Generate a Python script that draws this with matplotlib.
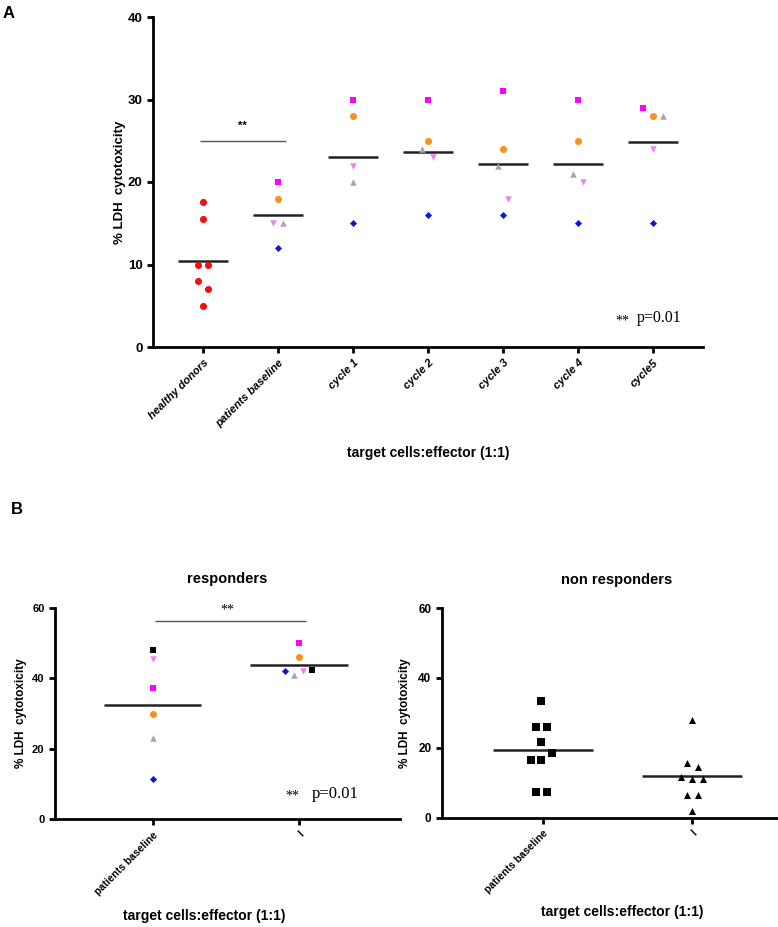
import numpy as np
import matplotlib
matplotlib.use("Agg")
import matplotlib.pyplot as plt

plt.rcParams['font.family'] = ['Liberation Sans', 'DejaVu Sans']

# panel A data
groups_a = ['healthy donors', 'patients baseline', 'cycle 1', 'cycle 2', 'cycle 3', 'cycle 4', 'cycle5']
healthy = [17.6, 15.5, 10, 10, 8, 7, 5]
pat_magenta = [20, 30, 30, 31, 30, 29]
pat_orange = [18, 28, 25, 24, 25, 28]
pat_pink = [15, 22, 23, 18, 20, 24]
pat_gray = [15, 20, 24, 22, 21, 28]
pat_blue = [12, 15, 16, 16, 15, 15]

# panel B data
groups_b = ['patients baseline', 'I']
resp_black = [48, 42.4]
resp_pink = [45.4, 42]
resp_magenta = [37.2, 50]
resp_orange = [30, 46]
resp_gray = [23, 40.9]
resp_blue = [11.4, 42]
nonresp_baseline = [33.5, 26, 26, 21.7, 18.4, 16.5, 16.5, 7.4, 7.4]
nonresp_cycle1 = [28, 15.7, 14.4, 11.6, 11.2, 11.2, 6.4, 6.4, 1.9]

# horizontal jitter (pixels) as in the original scatter
healthy_dx = [0, 0, -5, 5, -5, 5, 0]
pink_dx = [-5, 0, 5, 5, 5, 0]
gray_dx = [5, 0, -6, -5, -5, 10]
magenta_dx = [0, 0, 0, 0, 0, -10]
resp_dx = {'black': [0, 13], 'pink': [0, 4], 'magenta': [0, 0], 'orange': [0, 0],
           'gray': [0, -5], 'blue': [0, -14]}
nonresp_base_dx = [-2, -7, 4, -2, 9, -12, -2, -7, 4]
nonresp_c1_dx = [0, -5, 6, -11, 0, 11, -5, 6, 0]

RED = '#f01010'
MAGENTA = '#ff00ff'
ORANGE = '#f7931e'
PINK = '#ee82ee'
GRAY = '#a6a6a6'
BLUE = '#0a14e6'
BLACK = '#000000'


def style_axes(ax, tick_fs):
    for s in ['top', 'right']:
        ax.spines[s].set_visible(False)
    for s in ['left', 'bottom']:
        ax.spines[s].set_linewidth(2)
    ax.tick_params(direction='out', length=4, width=2)
    for lab in ax.get_yticklabels():
        lab.set_fontweight('bold')
        lab.set_fontsize(tick_fs)


def mean_line(ax, x, vals, hw=0.333):
    ax.hlines(np.mean(vals), x - hw, x + hw, color='#222222', lw=1.8)


fig = plt.figure(figsize=(7.78, 9.27), dpi=100)

# ---------------- panel A ----------------
ax = fig.add_axes([153 / 778, 1 - 347 / 927, 550 / 778, 330 / 927])
pxa = 1 / 75.0
xa = np.arange(len(groups_a))

ax.scatter(0 + np.array(healthy_dx) * pxa, healthy, s=26, marker='o', color=RED, lw=0, zorder=3)
mean_line(ax, 0, healthy)
pxs = xa[1:]
ax.scatter(pxs + np.array(magenta_dx) * pxa, pat_magenta, s=24, marker='s', color=MAGENTA, lw=0, zorder=3)
ax.scatter(pxs, pat_orange, s=26, marker='o', color=ORANGE, lw=0, zorder=3)
ax.scatter(pxs + np.array(pink_dx) * pxa, pat_pink, s=22, marker='v', color=PINK, lw=0, zorder=3)
ax.scatter(pxs + np.array(gray_dx) * pxa, pat_gray, s=22, marker='^', color=GRAY, lw=0, zorder=3)
ax.scatter(pxs, pat_blue, s=13, marker='D', color=BLUE, lw=0, zorder=3)
for i, x in enumerate(pxs):
    vals = [pat_magenta[i], pat_orange[i], pat_pink[i], pat_gray[i], pat_blue[i]]
    mean_line(ax, x, vals)

ax.hlines(25, -0.04, 1.11, color='#555555', lw=1)
ax.text(0.53, 26.8, '**', ha='center', va='center', fontsize=8, fontweight='bold')
ax.text(5.59, 3.2, '**', ha='center', va='center', fontsize=10, family='Liberation Serif')
ax.text(5.79, 3.5, 'p=0.01', ha='left', va='center', fontsize=11.5, family='Liberation Serif')

ax.set_xlim(-0.667, 6.667)
ax.set_ylim(0, 40)
ax.set_yticks([0, 10, 20, 30, 40])
ax.set_xticks(xa)
ax.set_xticklabels(groups_a, rotation=45, ha='right', rotation_mode='anchor',
                   fontsize=8, fontweight='bold', style='italic')
ax.set_ylabel('% LDH  cytotoxicity', fontsize=9.5, fontweight='bold')
ax.yaxis.set_label_coords(-0.05, 0.5)
ax.set_xlabel('target cells:effector (1:1)', fontsize=10, fontweight='bold')
ax.xaxis.set_label_coords(0.5, -0.30)
style_axes(ax, 9.5)

# ---------------- panel B, responders ----------------
ax1 = fig.add_axes([55 / 778, 1 - 819.3 / 927, 345 / 778, 211.6 / 927])
pxb = 1 / 146.7
xb = np.arange(len(groups_b))
ax1.scatter(xb + np.array(resp_dx['black']) * pxb, resp_black, s=24, marker='s', color=BLACK, lw=0, zorder=3)
ax1.scatter(xb + np.array(resp_dx['pink']) * pxb, resp_pink, s=22, marker='v', color=PINK, lw=0, zorder=3)
ax1.scatter(xb + np.array(resp_dx['magenta']) * pxb, resp_magenta, s=24, marker='s', color=MAGENTA, lw=0, zorder=3)
ax1.scatter(xb + np.array(resp_dx['orange']) * pxb, resp_orange, s=26, marker='o', color=ORANGE, lw=0, zorder=3)
ax1.scatter(xb + np.array(resp_dx['gray']) * pxb, resp_gray, s=22, marker='^', color=GRAY, lw=0, zorder=3)
ax1.scatter(xb + np.array(resp_dx['blue']) * pxb, resp_blue, s=13, marker='D', color=BLUE, lw=0, zorder=3)
for i, x in enumerate(xb):
    vals = [resp_black[i], resp_pink[i], resp_magenta[i], resp_orange[i], resp_gray[i], resp_blue[i]]
    mean_line(ax1, x, vals)

ax1.hlines(56.2, 0.02, 1.05, color='#555555', lw=1)
ax1.text(0.51, 59.3, '**', ha='center', va='center', fontsize=10, family='Liberation Serif')
ax1.text(0.956, 6.6, '**', ha='center', va='center', fontsize=10, family='Liberation Serif')
ax1.text(1.086, 7.2, 'p=0.01', ha='left', va='center', fontsize=12, family='Liberation Serif')

ax1.set_xlim(-0.666, 1.69)
ax1.set_ylim(0, 60)
ax1.set_yticks([0, 20, 40, 60])
ax1.set_xticks(xb)
ax1.set_xticklabels(groups_b, rotation=45, ha='right', rotation_mode='anchor',
                    fontsize=7.5, fontweight='bold')
ax1.set_title('responders', fontsize=10.5, fontweight='bold', y=1.075)
ax1.set_ylabel('% LDH  cytotoxicity', fontsize=8.5, fontweight='bold')
ax1.yaxis.set_label_coords(-0.082, 0.5)
ax1.set_xlabel('target cells:effector (1:1)', fontsize=10, fontweight='bold')
ax1.xaxis.set_label_coords(0.432, -0.425)
style_axes(ax1, 8)

# ---------------- panel B, non responders ----------------
ax2 = fig.add_axes([441.7 / 778, 1 - 817.7 / 927, 350 / 778, 209.7 / 927])
pxc = 1 / 149.0
ax2.scatter(0 + np.array(nonresp_base_dx) * pxc, nonresp_baseline, s=30, marker='s', color=BLACK, lw=0, zorder=3)
ax2.scatter(1 + np.array(nonresp_c1_dx) * pxc, nonresp_cycle1, s=26, marker='^', color=BLACK, lw=0, zorder=3)
mean_line(ax2, 0, nonresp_baseline, hw=0.335)
mean_line(ax2, 1, nonresp_cycle1, hw=0.335)

ax2.set_xlim(-0.68, 1.67)
ax2.set_ylim(0, 60)
ax2.set_yticks([0, 20, 40, 60])
ax2.set_xticks(xb)
ax2.set_xticklabels(groups_b, rotation=45, ha='right', rotation_mode='anchor',
                    fontsize=7.5, fontweight='bold')
ax2.set_title('non responders', fontsize=10.5, fontweight='bold', y=1.075)
ax2.set_ylabel('% LDH  cytotoxicity', fontsize=8.5, fontweight='bold')
ax2.yaxis.set_label_coords(-0.088, 0.5)
ax2.set_xlabel('target cells:effector (1:1)', fontsize=10, fontweight='bold')
ax2.xaxis.set_label_coords(0.515, -0.415)
style_axes(ax2, 8.5)

fig.text(9 / 778, 1 - 13 / 927, 'A', fontsize=12, fontweight='bold', ha='center', va='center')
fig.text(17 / 778, 1 - 509 / 927, 'B', fontsize=12, fontweight='bold', ha='center', va='center')

fig.savefig('out.png', dpi=100, facecolor='white')
